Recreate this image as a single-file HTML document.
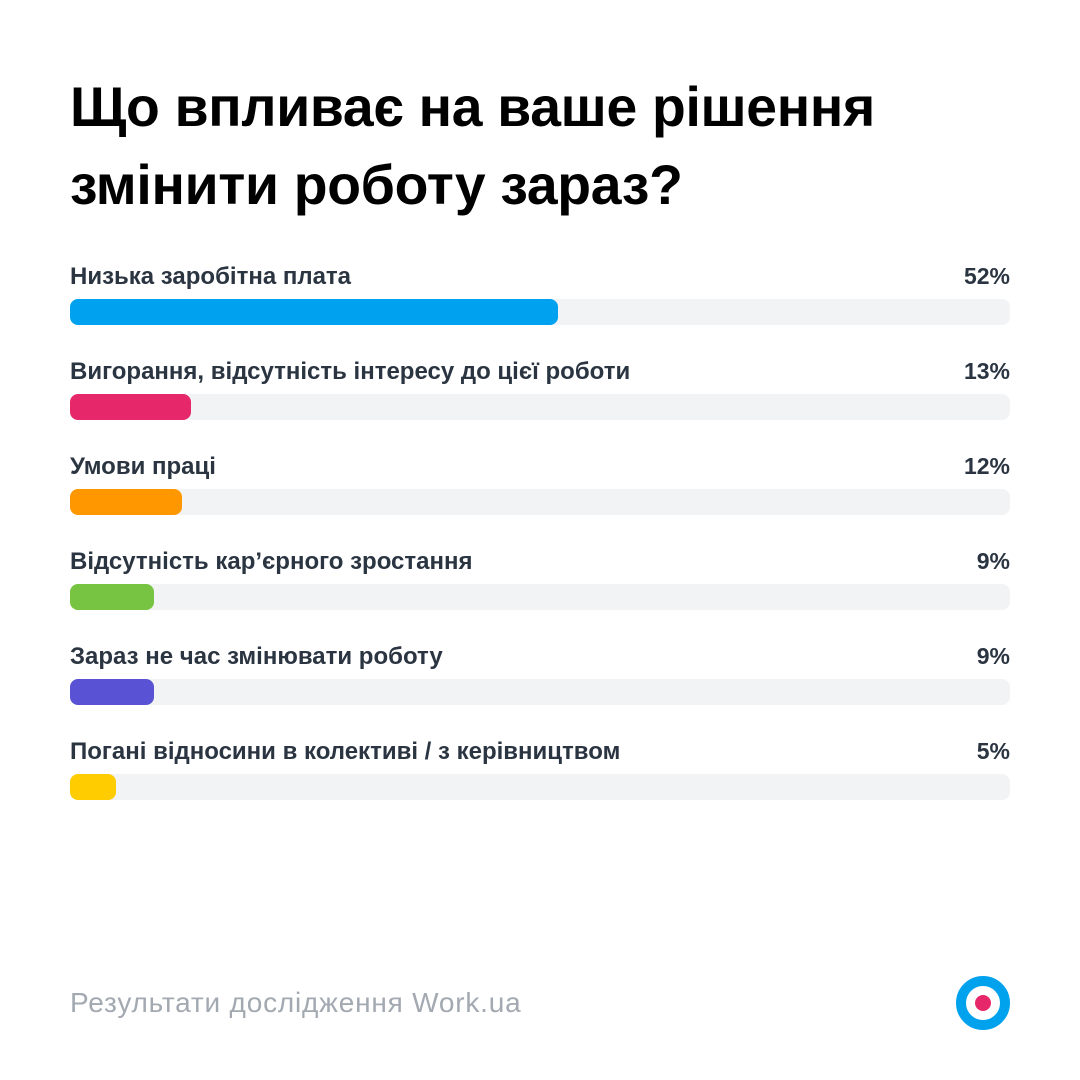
<!DOCTYPE html>
<html><head><meta charset="utf-8"><style>
body{margin:0;width:1080px;height:1080px;background:#fff;font-family:"Liberation Sans","DejaVu Sans",sans-serif;position:relative;overflow:hidden}
h1{position:absolute;left:70px;top:68px;margin:0;font-size:55.3px;line-height:78px;font-weight:bold;color:#000;letter-spacing:-0.3px;white-space:nowrap}
.row{position:absolute;left:70px;width:940px}
.lab{position:absolute;left:0;top:2px;font-size:24px;font-weight:bold;color:#2b3542;line-height:26px;white-space:nowrap}
.pct{position:absolute;right:0;top:1px;font-size:23px;font-weight:bold;color:#2b3542;line-height:26px}
.track{position:absolute;left:0;top:37px;width:940px;height:26px;background:#f2f3f5;border-radius:8px}
.bar{position:absolute;left:0;top:0;height:26px;border-radius:8px}
.foot{position:absolute;left:70px;top:987px;font-size:28px;letter-spacing:0.8px;color:#a3a9b1;white-space:nowrap}
.logo{position:absolute;left:956px;top:976px;width:34px;height:34px;border:10px solid #00a2ee;border-radius:50%;background:#fff}
.logo i{position:absolute;left:9px;top:9px;width:16px;height:16px;border-radius:50%;background:#e6286b}
</style></head><body>
<h1>Що впливає на ваше рішення<br>змінити роботу зараз?</h1>
<div class="row" style="top:262px"><div class="lab">Низька заробітна плата</div><div class="pct">52%</div><div class="track"><div class="bar" style="width:488px;background:#00a2ef"></div></div></div>
<div class="row" style="top:357px"><div class="lab">Вигорання, відсутність інтересу до цієї роботи</div><div class="pct">13%</div><div class="track"><div class="bar" style="width:121px;background:#e6286b"></div></div></div>
<div class="row" style="top:452px"><div class="lab">Умови праці</div><div class="pct">12%</div><div class="track"><div class="bar" style="width:112px;background:#ff9800"></div></div></div>
<div class="row" style="top:547px"><div class="lab">Відсутність кар’єрного зростання</div><div class="pct">9%</div><div class="track"><div class="bar" style="width:84px;background:#76c442"></div></div></div>
<div class="row" style="top:642px"><div class="lab">Зараз не час змінювати роботу</div><div class="pct">9%</div><div class="track"><div class="bar" style="width:84px;background:#5a52d5"></div></div></div>
<div class="row" style="top:737px"><div class="lab">Погані відносини в колективі / з керівництвом</div><div class="pct">5%</div><div class="track"><div class="bar" style="width:46px;background:#ffcc00"></div></div></div>
<div class="foot">Результати дослідження Work.ua</div>
<div class="logo"><i></i></div>
</body></html>
